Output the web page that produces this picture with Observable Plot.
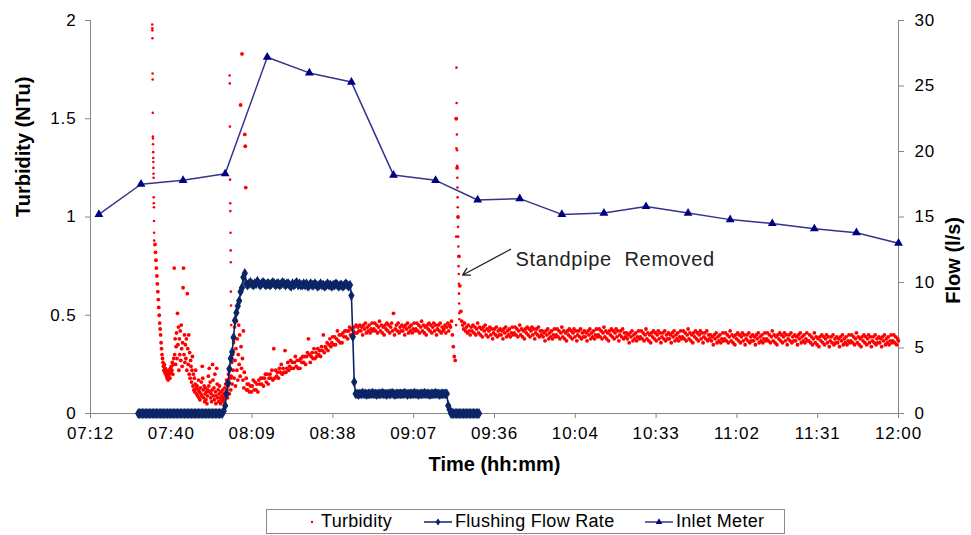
<!DOCTYPE html>
<html>
<head>
<meta charset="utf-8">
<script src="https://cdn.jsdelivr.net/npm/d3@7"></script>
<script src="https://cdn.jsdelivr.net/npm/@observablehq/plot@0.6"></script>
<style>
  body { margin: 0; background: #fff; font-family: "Liberation Sans", Arial, sans-serif; }
  #wrap { position: relative; width: 971px; height: 535px; overflow: hidden; }
  #legend { position: absolute; left: 266px; top: 509px; width: 519px; height: 25px;
            border: 1px solid #8a8a8a; box-sizing: border-box; background: #fff; }
  .lg-item { position: absolute; top: 0; height: 23px; display: flex; align-items: center;
             font-size: 18px; color: #000; white-space: nowrap; letter-spacing: 0.3px; }
  .lg-item svg { margin-right: 2px; }
  [aria-label$="tick label"] text { letter-spacing: 0.9px; }
  .annot text { letter-spacing: 0.7px; }
</style>
</head>
<body>
<div id="wrap">
  <div id="chart"></div>
  <div id="legend"></div>
</div>
<script>
// ---------------- DATA ----------------
const seriesNames = ["Turbidity", "Flushing Flow Rate", "Inlet Meter"];
const seriesColors = ["#ff0000", "#0b2566", "#000080"];

const xTickLabels = ["07:12","07:40","08:09","08:38","09:07","09:36","10:04","10:33","11:02","11:31","12:00"];
const xStart = "07:12", xEnd = "12:00", xTickStepMin = 28.8;
const turbTicks = [0, 0.5, 1, 1.5, 2];
const flowTicks = [0, 5, 10, 15, 20, 25, 30];

// Inlet meter (l/s), every 15 minutes from 07:15
const inletStart = "07:15:00", inletStepSec = 900;
const inletFlow = [15.2, 17.5, 17.8, 18.3, 27.2, 26.0, 25.3, 18.2, 17.8, 16.3,
                   16.4, 15.2, 15.3, 15.8, 15.3, 14.8, 14.5, 14.1, 13.8, 13.0];

// Flushing flow rate (l/s), every 30 s from 07:29
const flushStart = "07:29:00", flushStepSec = 30;
const flushFlow = [
  0,0,0,0,0,0,0,0,0,0, 0,0,0,0,0,0,0,0,0,0, 0,0,0,0,0,0,0,0,0,0,
  0,0,0,0,0,0,0,0,0,0, 0,0,0,0,0,0,0,0,0,0, 0,0,0,0,0,0,0,0,0,0,
  0, 0.2, 0.6, 1.5, 2.3, 3.4, 4.2, 4.7, 5.8, 7.1, 7.7, 8.2, 8.6, 9.3, 9.6, 10.4, 10.7,
  9.9, 9.8, 9.9, 10.0, 9.9, 9.8, 9.9, 9.9, 10.1, 9.9,
  9.8, 9.9, 10.0, 9.9, 9.8, 9.9, 9.9, 9.8, 9.9, 10.0,
  9.9, 9.8, 9.9, 9.9, 9.8, 9.9, 10.0, 9.9, 9.8, 9.9,
  9.9, 9.8, 9.7, 9.9, 9.8, 9.9, 10.0, 9.8, 9.9, 9.8,
  9.8, 9.9, 9.8, 9.9, 9.7, 9.8, 9.9, 9.8, 9.8, 9.9,
  9.8, 9.7, 9.8, 9.9, 9.8, 9.8, 9.7, 9.8, 9.9, 9.8,
  9.8, 9.7, 9.8, 9.8, 9.9, 9.8, 9.7, 9.8, 9.8, 9.7,
  9.8, 9.9, 9.8, 9.7, 9.8,
  9.0, 5.85, 2.4,
  1.5, 1.5, 1.45, 1.5, 1.5, 1.55, 1.5, 1.5, 1.45, 1.5, 1.5,
  1.5, 1.55, 1.5, 1.5, 1.45, 1.5, 1.5, 1.5, 1.55, 1.5, 1.5,
  1.45, 1.5, 1.5, 1.5, 1.55, 1.5, 1.45, 1.5, 1.5, 1.5, 1.5,
  1.5, 1.5, 1.55, 1.5, 1.45, 1.5, 1.5, 1.5, 1.5, 1.55, 1.5,
  1.5, 1.45, 1.5, 1.5, 1.5, 1.55, 1.5, 1.5, 1.5, 1.45, 1.5,
  1.5, 1.5, 1.55, 1.5, 1.5, 1.45, 1.5, 1.5, 1.5, 1.5, 1.5,
  0.6, 0.3,
  0,0,0,0,0,0,0,0,0,0, 0,0,0,0,0,0,0,0,0,0, 0
];

// Turbidity (hundredths of NTu)
const turbEarlyStart = "07:35:00", turbEarlyStepSec = 10;
const turbEarly = [
  86,82,78,74,70,66,  62,58,54,50,46,43,  40,36,33,30,28,26,  24,22,25,21,23,20,
  22,19,18,21,17,19,  20,22,18,23,21,24,  22,26,20,25,28,74,  30,38,25,34,41,28,
  51,35,44,22,38,30,  42,27,45,33,24,36,  64,74,30,40,26,35,  28,38,22,61,33,25,
  40,20,31,18,27,24,  16,22,29,14,20,12,  18,11,15,22,13,10,  14,9,12,17,8,11,
  7,13,10,16,9,24,    18,12,8,14,6,10,    13,7,11,5,9,12,     19,14,23,11,16,8,
  10,6,12,25,17,9,    13,7,20,11,5,9,     23,15,8,12,6,10,    14,8,5,11,7,9,
  6,12,8,10,7,13,     9,15,11,17,12,8,    14,20,16,10,23,18,  12,19,26,15,30,22,
  36,18,44,27,14,33,  47,22,38,17,30,45,  25,40,19,157,34,23, 183,28,17,42,13,21,
  142,136,115,18,12,15
];

const turbLateStart = "08:08:00", turbLateStepSec = 20;
const turbLate = [
  12,15,11,14,11,14,17,12,16,12,15,11,17,15,18,
  15,18,14,18,20,16,20,15,18,20,18,22,17,33,18,
  22,19,21,18,23,21,25,20,23,21,32,21,23,26,22,
  24,27,23,26,23,26,29,24,27,23,27,23,28,26,29,
  26,29,25,29,31,38,30,26,29,31,28,33,28,31,29,
  33,30,32,29,34,32,40,31,34,33,36,32,35,38,34,
  36,39,35,39,35,38,42,37,40,36,40,36,41,39,42,
  39,42,38,42,44,40,43,39,42,44,41,45,41,44,42,
  45,42,44,40,45,43,46,41,44,42,45,41,43,46,42,
  43,46,42,45,41,44,47,42,45,41,44,40,45,43,46,
  42,45,41,44,46,42,51,40,43,45,42,46,41,44,42,
  45,42,44,40,45,43,46,41,44,42,45,41,43,46,42,
  43,46,42,45,41,44,47,42,45,41,44,40,45,43,46,
  42,45,41,44,46,42,45,40,43,45,42,46,41,44,42,
  43,45,41,44,46,42,45,44,47,40,34,29,27,150,125,
  100,80,65,52,47,45,43,46,42,44,41,45,42,40,44,
  42,45,41,44,40,43,46,41,44,40,43,39,44,42,45,
  40,43,39,42,44,40,43,38,41,43,40,44,39,42,40,
  43,40,42,38,43,41,44,39,42,40,43,39,41,44,40,
  41,44,40,43,39,42,45,40,43,39,42,38,43,41,44,
  40,43,39,42,44,40,43,38,41,43,40,44,39,42,40,
  42,39,41,37,42,40,43,38,41,39,42,38,40,43,39,
  40,43,39,42,38,41,44,39,42,38,41,37,42,40,43,
  39,42,38,41,43,39,42,37,40,42,39,43,38,41,39,
  42,39,41,37,42,40,43,38,41,39,42,38,40,43,39,
  40,43,39,42,38,41,44,39,42,38,41,37,42,40,43,
  39,42,38,41,43,39,42,37,40,42,39,43,38,41,39,
  41,38,40,36,41,39,42,37,40,38,41,37,39,42,38,
  39,42,38,41,37,40,43,38,41,37,40,36,41,39,42,
  38,41,37,40,42,38,41,36,39,41,38,42,37,40,38,
  41,38,40,36,41,39,42,37,40,38,41,37,39,42,38,
  39,42,38,41,37,40,43,38,41,37,40,36,41,39,42,
  38,41,37,40,42,38,41,36,39,41,38,42,37,40,38,
  40,37,39,35,40,38,41,36,39,37,40,36,38,41,37,
  38,41,37,40,36,39,42,37,40,36,39,35,40,38,41,
  37,40,36,39,41,37,40,35,38,40,37,41,36,39,37,
  40,37,39,35,40,38,41,36,39,37,40,36,38,41,37,
  38,41,37,40,36,39,42,37,40,36,39,35,40,38,41,
  37,40,36,39,41,37,40,35,38,40,37,41,36,39,37,
  40,37,39,35,40,38,41,36,39,37,40,36,38,41,37,
  37,40,36,39,35,38,41,36,39,35,38,34,39,37,40,
  36,39,35,38,40,36,39,34,37,39,36,40,35,38,36,
  39,36,38,34,39,37,40,35,38,36,39,35,37,40,36,
  37,40,36,39,35,38,41,36,39,35,38,34,39,37,40,
  36,39,35,38,40,36,39,34,37,39,36,40,35,38,36,
  39,36,38,34,39,37,40,35,38,36,39,35,37,40,36,
  37,40,36,39,35,38,37
];

// rapid spikes logged at short intervals
const spike1Start = "07:34:00", spike1StepSec = 2;
const spike1 = [198,196,195,191,173,170,153,141,140,137,133,130,128,125,122,120,110,107,105,98,92,88];
const spike2Start = "08:01:36", spike2StepSec = 3;
const spike2 = [172,168,146,119,107,103,92,83,77,62,55,45];
const spike3Start = "09:22:18", spike3StepSec = 3;
const spike3 = [45,90,135,176,158,150,142,134,126,120,115,110,105,100,95,90,85,80,75,71,66,61,56,51,48];

const annotationText = "Standpipe  Removed";
const annotationAt = {time: "09:43:30", turb: 0.785};
const arrowFrom = {time: "09:41:40", turb: 0.835};
const arrowTo = {time: "09:24:40", turb: 0.705};

// ---------------- BUILD ----------------
const toMin = s => { const [h, m, sec = 0] = s.split(":").map(Number); return h * 60 + m + sec / 60; };
const regular = (start, stepSec, values, k = 1) => {
  const t0 = toMin(start);
  return values.map((v, i) => ({t: t0 + i * stepSec / 60, v: v * k}));
};
const flowToTurb = turbTicks[turbTicks.length - 1] / flowTicks[flowTicks.length - 1];

const turbBand = [
  ...regular(turbEarlyStart, turbEarlyStepSec, turbEarly, 0.01),
  ...regular(turbLateStart, turbLateStepSec, turbLate, 0.01)
];
const turbSpikes = [
  ...regular(spike1Start, spike1StepSec, spike1, 0.01),
  ...regular(spike2Start, spike2StepSec, spike2, 0.01),
  ...regular(spike3Start, spike3StepSec, spike3, 0.01)
];
const flushing = regular(flushStart, flushStepSec, flushFlow, flowToTurb);
const inlet = regular(inletStart, inletStepSec, inletFlow, flowToTurb);

const x0 = toMin(xStart), x1 = toMin(xEnd);
const xTicks = xTickLabels.map((_, i) => x0 + i * xTickStepMin);
const xLabelOf = new Map(xTicks.map((t, i) => [t, xTickLabels[i]]));
const flowTickPos = flowTicks.map(f => f * flowToTurb);

const axisGray = "#858585";
const FONT = "'Liberation Sans', Arial, sans-serif";

const chart = Plot.plot({
  width: 971, height: 500,
  marginLeft: 90, marginRight: 73, marginTop: 20, marginBottom: 87,
  x: {domain: [x0, x1], axis: null},
  y: {domain: [turbTicks[0], turbTicks[turbTicks.length - 1]], axis: null},
  style: {fontFamily: FONT, fontSize: "17px", color: "#000", background: "#fff", overflow: "visible"},
  marks: [
    Plot.ruleX([x0, x1], {stroke: axisGray, strokeWidth: 1}),
    Plot.ruleY([0], {stroke: axisGray, strokeWidth: 1}),
    Plot.axisY(turbTicks, {anchor: "left", label: null, tickSize: 5, tickPadding: 9, stroke: axisGray,
      tickFormat: d => String(d), fill: "#000", fontSize: 17}),
    Plot.axisY(flowTickPos, {anchor: "right", label: null, tickSize: 5, tickPadding: 11, stroke: axisGray,
      tickFormat: d => String(Math.round(d / flowToTurb)), fill: "#000", fontSize: 17}),
    Plot.axisX(xTicks, {anchor: "bottom", label: null, tickSize: 5, tickPadding: 8, stroke: axisGray,
      tickFormat: d => xLabelOf.get(d), fill: "#000", fontSize: 17}),
    Plot.dot(turbBand, {x: "t", y: "v", r: 1.9, fill: seriesColors[0], stroke: "none"}),
    Plot.dot(turbSpikes, {x: "t", y: "v", r: 1.3, fill: seriesColors[0], stroke: "none"}),
    Plot.line(flushing, {x: "t", y: "v", stroke: seriesColors[1], strokeWidth: 1.6}),
    Plot.dot(flushing, {x: "t", y: "v", symbol: "diamond", r: 3.3, fill: seriesColors[1], stroke: "none"}),
    Plot.line(inlet, {x: "t", y: "v", stroke: "#34348c", strokeWidth: 1.5}),
    Plot.dot(inlet, {x: "t", y: "v", symbol: "triangle", r: 3.3, fill: seriesColors[2], stroke: "none"}),
    Plot.arrow([0], {x1: () => toMin(arrowFrom.time), y1: () => arrowFrom.turb,
      x2: () => toMin(arrowTo.time), y2: () => arrowTo.turb,
      stroke: "#222", strokeWidth: 1.3, headLength: 9}),
    Plot.text([annotationText], {x: () => toMin(annotationAt.time), y: () => annotationAt.turb,
      text: d => d, textAnchor: "start", fontSize: 20, fill: "#222", className: "annot"}),
    Plot.text(["Turbidity (NTu)"], {frameAnchor: "left", dx: -67, rotate: -90, fontWeight: "bold", fontSize: 20, fill: "#000"}),
    Plot.text(["Flow (l/s)"], {frameAnchor: "right", dx: 55, rotate: -90, fontWeight: "bold", fontSize: 20, fill: "#000"}),
    Plot.text(["Time (hh:mm)"], {frameAnchor: "bottom", dy: 57, fontWeight: "bold", fontSize: 20, fill: "#000"})
  ]
});
document.getElementById("chart").appendChild(chart);

// ---------------- LEGEND ----------------
const legend = document.getElementById("legend");
const icons = [
  `<svg width="14" height="20"><circle cx="7" cy="10" r="1.2" fill="${seriesColors[0]}"/></svg>`,
  `<svg width="30" height="20"><line x1="1" y1="10" x2="29" y2="10" stroke="${seriesColors[1]}" stroke-width="1.5"/><path d="M15,6.5L17.5,10L15,13.5L12.5,10Z" fill="${seriesColors[1]}"/></svg>`,
  `<svg width="30" height="20"><line x1="1" y1="10" x2="29" y2="10" stroke="#34348c" stroke-width="1.5"/><path d="M15,6.3L18.3,12L11.7,12Z" fill="${seriesColors[2]}"/></svg>`
];
const legendLefts = [38, 156, 377];
seriesNames.forEach((name, i) => {
  const el = document.createElement("div");
  el.className = "lg-item";
  el.style.left = legendLefts[i] + "px";
  el.innerHTML = icons[i] + `<span>${name}</span>`;
  legend.appendChild(el);
});
</script>
</body>
</html>
